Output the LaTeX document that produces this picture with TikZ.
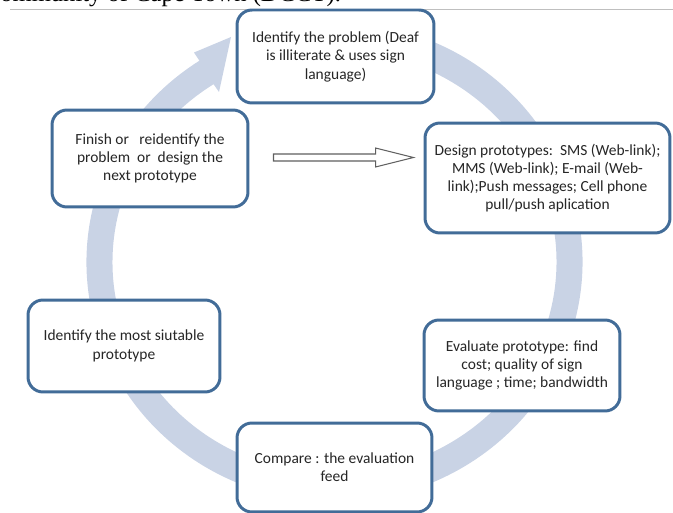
\documentclass[tikz,border=0pt]{standalone}
\usepackage{fontspec}
\setmainfont{Carlito}
\newfontfamily\pageserif{Liberation Serif}
\usetikzlibrary{calc}
\definecolor{boxline}{RGB}{66,108,152}
\definecolor{ringcol}{RGB}{201,211,229}
\definecolor{txt}{RGB}{38,38,38}
\definecolor{arrline}{RGB}{95,95,95}
\begin{document}
\begin{tikzpicture}[x=0.02cm,y=-0.02cm,
  cyclebox/.style={draw=boxline, line width=1.7pt, fill=white, rounded corners=8.5pt,
    align=center, text=txt, font=\fontsize{8.8}{10.4}\selectfont, inner sep=2pt},
  hollowarrow/.style={draw=arrline, line width=0.6pt, fill=white}
]
\useasboundingbox (0,0) rectangle (673,513);
% cut-off page text and rule above the figure
\begin{scope}
  \clip (0,0) rectangle (673,9);
  \node[anchor=base west, inner sep=0, text=black,
        font=\pageserif\fontsize{14}{16}\selectfont] (pagetext) at (0,1.5)
        {ommunity of Cape Town (DCCT).};
\end{scope}
\draw[black!25, line width=0.5pt] (10,9) -- (673,9);
% circular band with arrow head
\coordinate (c) at (334.5,262);
\fill[ringcol] ($(c)+(-75:248 and 240)$)
  arc[start angle=-75, end angle=237, x radius=248, y radius=240]
  -- (194,52.5) -- (231,37) -- (219,92)
  -- ($(c)+(237:222 and 212)$)
  arc[start angle=237, end angle=-75, x radius=222, y radius=212] -- cycle;
% boxes
\node[cyclebox, minimum width=3.94cm, minimum height=1.86cm] (top) at (335.5,56.5)
  {Identify the problem (Deaf\\ is illiterate \& uses sign\\ language)};
\node[cyclebox, minimum width=3.92cm, minimum height=1.94cm] (fin) at (150,158.5)
  {Finish or\ \ \ reidentify the\\ problem\ \ or\ \ design the\\ next prototype};
\node[cyclebox, minimum width=4.9cm, minimum height=2.2cm] (des) at (547.5,178)
  {Design prototypes:\ \ SMS (Web-link);\\ MMS (Web-link); E-mail (Web-\\ link);Push messages; Cell phone\\ pull/push aplication};
\node[cyclebox, minimum width=3.84cm, minimum height=1.84cm] (most) at (124,346)
  {Identify the most siutable\\ prototype};
\node[cyclebox, minimum width=3.92cm, minimum height=1.82cm] (eval) at (522,365.5)
  {Evaluate prototype: find\\ cost; quality of sign\\ language ; time; bandwidth};
\node[cyclebox, minimum width=3.9cm, minimum height=1.78cm] (cmp) at (334.5,467.5)
  {Compare : the evaluation\\ feed};
% hollow block arrow from the Finish box towards the Design box
\coordinate (ha) at ($(fin.east)+(24,-1)$);
\coordinate (hb) at ($(des.west)+(-10,-20.5)$);
\draw[hollowarrow] ($(ha)+(0,-3.5)$) -- ($(hb)+(-38,-3.5)$) -- ($(hb)+(-38,-9.5)$)
  -- (hb) -- ($(hb)+(-38,9.5)$) -- ($(hb)+(-38,3.5)$) -- ($(ha)+(0,3.5)$) -- cycle;
\end{tikzpicture}
\end{document}
